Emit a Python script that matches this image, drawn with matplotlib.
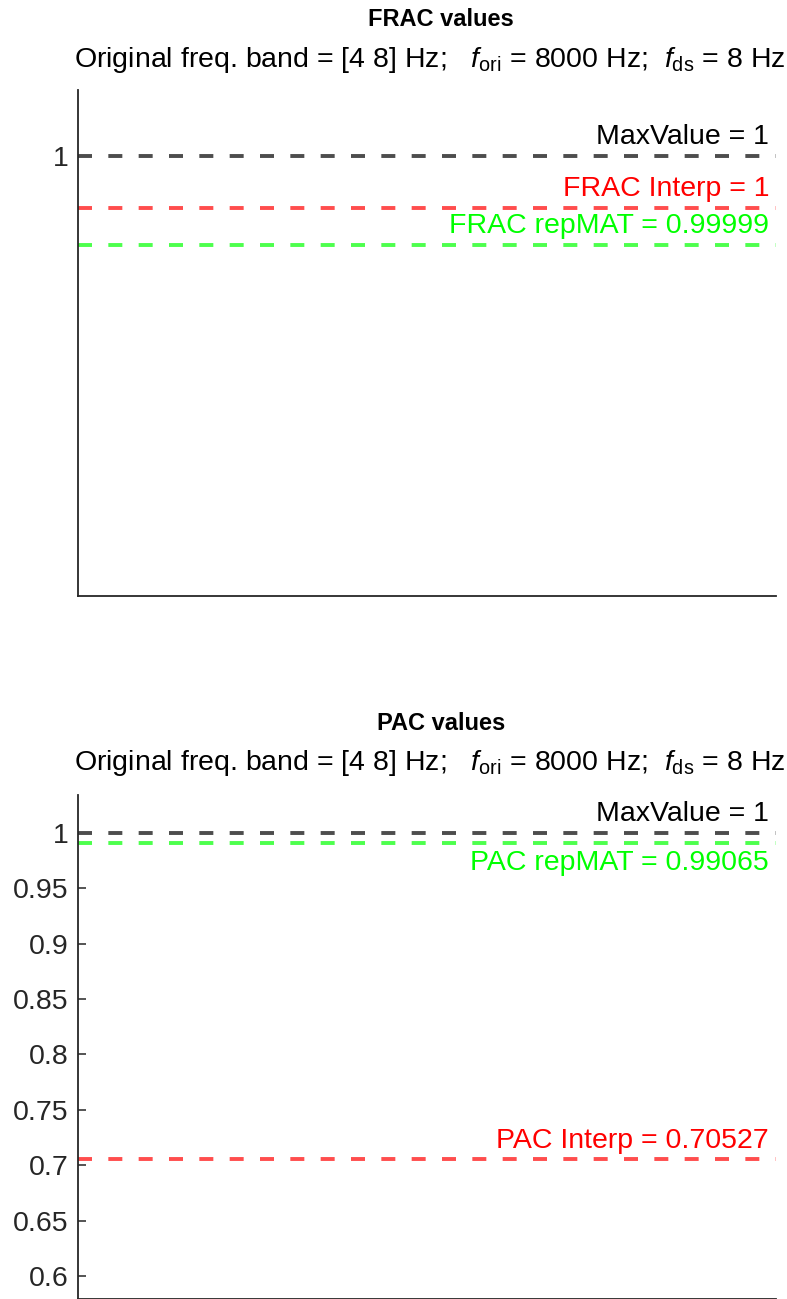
import matplotlib
matplotlib.use("Agg")
import matplotlib.pyplot as plt

plt.rcParams['font.family'] = ['Liberation Sans', 'DejaVu Sans']
plt.rcParams['mathtext.fontset'] = 'custom'
plt.rcParams['mathtext.rm'] = 'Liberation Sans'
plt.rcParams['mathtext.it'] = 'Liberation Sans:italic'

# valores
nombres_frac = ['MaxValue', 'FRAC Interp', 'FRAC repMAT']
valores_frac = [1.0, 0.9999951, 0.9999916]
nombres_pac = ['MaxValue', 'PAC Interp', 'PAC repMAT']
valores_pac = [1.0, 0.70527, 0.99065]
ticks_pac = [0.6, 0.65, 0.7, 0.75, 0.8, 0.85, 0.9, 0.95, 1]

subtitulo = (r'Original freq. band = [4 8] Hz;   $\it{f}_{\rm{ori}}$ = 8000 Hz;  '
             r'$\it{f}_{\rm{ds}}$ = 8 Hz')

col_linea = ['#4d4d4d', '#ff4d4d', '#4dff4d']
col_texto = ['#000000', '#ff0000', '#00ff00']

W, H = 787, 1299
fs = 20.5
fig = plt.figure(figsize=(W / 100, H / 100), dpi=100)


def ejes(top, bottom):
    ax = fig.add_axes([78 / W, (H - bottom) / H, (776 - 78) / W, (bottom - top) / H])
    for s in ['top', 'right']:
        ax.spines[s].set_visible(False)
    for s in ['left', 'bottom']:
        ax.spines[s].set_color('#262626')
        ax.spines[s].set_linewidth(1.3)
    ax.tick_params(axis='y', direction='in', length=6, width=1.1, colors='#262626',
                   labelsize=fs, pad=7)
    ax.set_xticks([])
    ax.set_xlim(0, 1)
    return ax


def dibujar(ax, nombres, valores, abajo):
    for i, (n, v) in enumerate(zip(nombres, valores)):
        ax.axhline(v, color=col_linea[i], lw=2.8, dashes=(3.6, 4.2))
        etiqueta = '%s = %.5g' % (n, v)
        if n in abajo:
            ax.annotate(etiqueta, (0.99, v), xytext=(0, -5), textcoords='offset points',
                        ha='right', va='top', color=col_texto[i], fontsize=fs)
        else:
            ax.annotate(etiqueta, (0.99, v), xytext=(0, 4), textcoords='offset points',
                        ha='right', va='bottom', color=col_texto[i], fontsize=fs)


# FRAC
ax1 = ejes(90, 596)
ax1.set_ylim(0.9999585, 1.0000062)
ax1.set_yticks([1])
ax1.set_yticklabels(['1'])
dibujar(ax1, nombres_frac, valores_frac, [])
fig.text(441 / W, 1 - 20 / H, 'FRAC values', ha='center', va='center',
         fontsize=17, fontweight='bold')
fig.text(430 / W, 1 - 60 / H, subtitulo, ha='center', va='center', fontsize=fs)

# PAC
ax2 = ejes(795, 1299)
ax2.set_ylim(0.5792, 1.0343)
ax2.set_yticks(ticks_pac)
ax2.set_yticklabels(['%g' % t for t in ticks_pac])
dibujar(ax2, nombres_pac, valores_pac, ['PAC repMAT'])
fig.text(441 / W, 1 - 723 / H, 'PAC values', ha='center', va='center',
         fontsize=17, fontweight='bold')
fig.text(430 / W, 1 - 763 / H, subtitulo, ha='center', va='center', fontsize=fs)

fig.savefig('out.png', dpi=100)
